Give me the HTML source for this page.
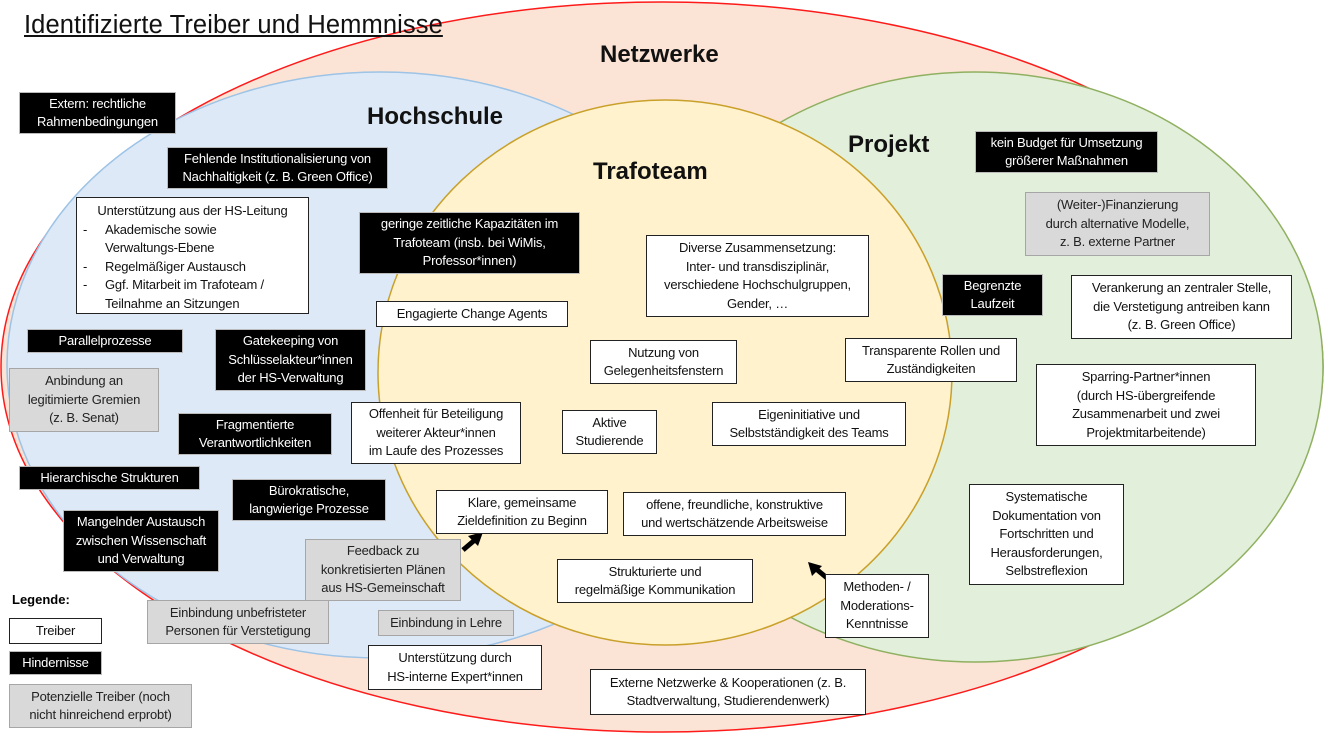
<!DOCTYPE html>
<html><head><meta charset="utf-8"><style>
body{margin:0;width:1324px;height:734px;position:relative;background:#fff;font-family:"Liberation Sans",sans-serif;overflow:hidden}
.b{position:absolute;box-sizing:border-box;display:flex;align-items:center;justify-content:center;text-align:center;font-size:13px;line-height:18.5px;padding:0 2px;white-space:nowrap;letter-spacing:-0.2px}
.w{background:#fff;border:1.5px solid #222;color:#111}
.k{background:#000;border:1px solid #bbb;color:#fff}
.g{background:#d9d9d9;border:1.5px solid #a6a6a6;color:#222}
.h{position:absolute;font-weight:bold;font-size:24px;color:#111}
</style></head><body>
<svg width="1324" height="734" style="position:absolute;left:0;top:0">
<ellipse cx="662" cy="367" rx="661" ry="365" fill="#fbe4d6" stroke="#ff1a1a" stroke-width="1.5"/>
<ellipse cx="380" cy="365" rx="373" ry="293" fill="#dde9f6" stroke="#9dc3e6" stroke-width="1.5"/>
<ellipse cx="975" cy="367" rx="348" ry="295" fill="#e2efda" stroke="#8fb060" stroke-width="1.5"/>
<ellipse cx="665" cy="372.5" rx="287" ry="272.5" fill="#fff2cc" stroke="#c9a02a" stroke-width="1.5"/>
<line x1="463" y1="550" x2="476" y2="539" stroke="#000" stroke-width="5"/>
<polygon points="483,532 468,536 478,546" fill="#000"/>
<line x1="827" y1="578" x2="815" y2="568" stroke="#000" stroke-width="5"/>
<polygon points="808,562 812,576 822,566" fill="#000"/>
</svg>
<div style="position:absolute;left:24px;top:11px;font-size:25.5px;text-decoration:underline;color:#111;letter-spacing:0.1px">Identifizierte Treiber und Hemmnisse</div>
<div class="h" style="left:600px;top:41px">Netzwerke</div>
<div class="h" style="left:367px;top:103px">Hochschule</div>
<div class="h" style="left:593px;top:158px">Trafoteam</div>
<div class="h" style="left:848px;top:131px">Projekt</div>

<div class="b k" style="left:19px;top:92px;width:157px;height:42px">Extern: rechtliche<br>Rahmenbedingungen</div>
<div class="b k" style="left:167px;top:147px;width:221px;height:42px">Fehlende Institutionalisierung von<br>Nachhaltigkeit (z. B. Green Office)</div>
<div class="b k" style="left:359px;top:212px;width:221px;height:62px">geringe zeitliche Kapazitäten im<br>Trafoteam (insb. bei WiMis,<br>Professor*innen)</div>
<div class="b k" style="left:27px;top:329px;width:156px;height:24px">Parallelprozesse</div>
<div class="b k" style="left:215px;top:329px;width:151px;height:62px">Gatekeeping von<br>Schlüsselakteur*innen<br>der HS-Verwaltung</div>
<div class="b k" style="left:178px;top:413px;width:154px;height:42px">Fragmentierte<br>Verantwortlichkeiten</div>
<div class="b k" style="left:19px;top:466px;width:181px;height:24px">Hierarchische Strukturen</div>
<div class="b k" style="left:232px;top:479px;width:154px;height:42px">Bürokratische,<br>langwierige Prozesse</div>
<div class="b k" style="left:63px;top:510px;width:156px;height:62px">Mangelnder Austausch<br>zwischen Wissenschaft<br>und Verwaltung</div>
<div class="b k" style="left:975px;top:131px;width:183px;height:42px">kein Budget für Umsetzung<br>größerer Maßnahmen</div>
<div class="b k" style="left:942px;top:274px;width:101px;height:42px">Begrenzte<br>Laufzeit</div>

<div class="b w" style="left:76px;top:197px;width:233px;height:117px;display:block;text-align:left;padding:4px 6px;line-height:18.5px">
<div style="text-align:center">Unterstützung aus der HS-Leitung</div>
<div style="display:flex"><span style="width:22px">-</span><span>Akademische sowie<br>Verwaltungs-Ebene</span></div>
<div style="display:flex"><span style="width:22px">-</span><span>Regelmäßiger Austausch</span></div>
<div style="display:flex"><span style="width:22px">-</span><span>Ggf. Mitarbeit im Trafoteam /<br>Teilnahme an Sitzungen</span></div>
</div>
<div class="b w" style="left:376px;top:301px;width:192px;height:26px">Engagierte Change Agents</div>
<div class="b w" style="left:351px;top:402px;width:170px;height:62px">Offenheit für Beteiligung<br>weiterer Akteur*innen<br>im Laufe des Prozesses</div>
<div class="b w" style="left:590px;top:340px;width:147px;height:44px">Nutzung von<br>Gelegenheitsfenstern</div>
<div class="b w" style="left:562px;top:410px;width:95px;height:44px">Aktive<br>Studierende</div>
<div class="b w" style="left:646px;top:235px;width:223px;height:82px">Diverse Zusammensetzung:<br>Inter- und transdisziplinär,<br>verschiedene Hochschulgruppen,<br>Gender, …</div>
<div class="b w" style="left:845px;top:338px;width:172px;height:44px">Transparente Rollen und<br>Zuständigkeiten</div>
<div class="b w" style="left:712px;top:402px;width:194px;height:44px">Eigeninitiative und<br>Selbstständigkeit des Teams</div>
<div class="b w" style="left:1071px;top:275px;width:221px;height:64px">Verankerung an zentraler Stelle,<br>die Verstetigung antreiben kann<br>(z. B. Green Office)</div>
<div class="b w" style="left:1036px;top:364px;width:220px;height:82px">Sparring-Partner*innen<br>(durch HS-übergreifende<br>Zusammenarbeit und zwei<br>Projektmitarbeitende)</div>
<div class="b w" style="left:969px;top:484px;width:155px;height:101px">Systematische<br>Dokumentation von<br>Fortschritten und<br>Herausforderungen,<br>Selbstreflexion</div>
<div class="b w" style="left:436px;top:490px;width:172px;height:44px">Klare, gemeinsame<br>Zieldefinition zu Beginn</div>
<div class="b w" style="left:623px;top:492px;width:223px;height:44px">offene, freundliche, konstruktive<br>und wertschätzende Arbeitsweise</div>
<div class="b w" style="left:557px;top:559px;width:196px;height:44px">Strukturierte und<br>regelmäßige Kommunikation</div>
<div class="b w" style="left:825px;top:574px;width:104px;height:64px">Methoden- /<br>Moderations-<br>Kenntnisse</div>
<div class="b w" style="left:368px;top:645px;width:174px;height:45px">Unterstützung durch<br>HS-interne Expert*innen</div>
<div class="b w" style="left:590px;top:669px;width:276px;height:46px">Externe Netzwerke &amp; Kooperationen (z. B.<br>Stadtverwaltung, Studierendenwerk)</div>

<div class="b g" style="left:305px;top:539px;width:156px;height:62px">Feedback zu<br>konkretisierten Plänen<br>aus HS-Gemeinschaft</div>
<div class="b g" style="left:147px;top:600px;width:182px;height:44px">Einbindung unbefristeter<br>Personen für Verstetigung</div>
<div class="b g" style="left:378px;top:610px;width:136px;height:26px">Einbindung in Lehre</div>
<div class="b g" style="left:9px;top:368px;width:150px;height:64px">Anbindung an<br>legitimierte Gremien<br>(z. B. Senat)</div>
<div class="b g" style="left:1025px;top:192px;width:185px;height:64px">(Weiter-)Finanzierung<br>durch alternative Modelle,<br>z. B. externe Partner</div>

<div style="position:absolute;left:12px;top:592px;font-size:13px;font-weight:bold">Legende:</div>
<div class="b w" style="left:9px;top:618px;width:93px;height:26px">Treiber</div>
<div class="b k" style="left:9px;top:651px;width:93px;height:24px">Hindernisse</div>
<div class="b g" style="left:9px;top:684px;width:183px;height:44px">Potenzielle Treiber (noch<br>nicht hinreichend erprobt)</div>
</body></html>
